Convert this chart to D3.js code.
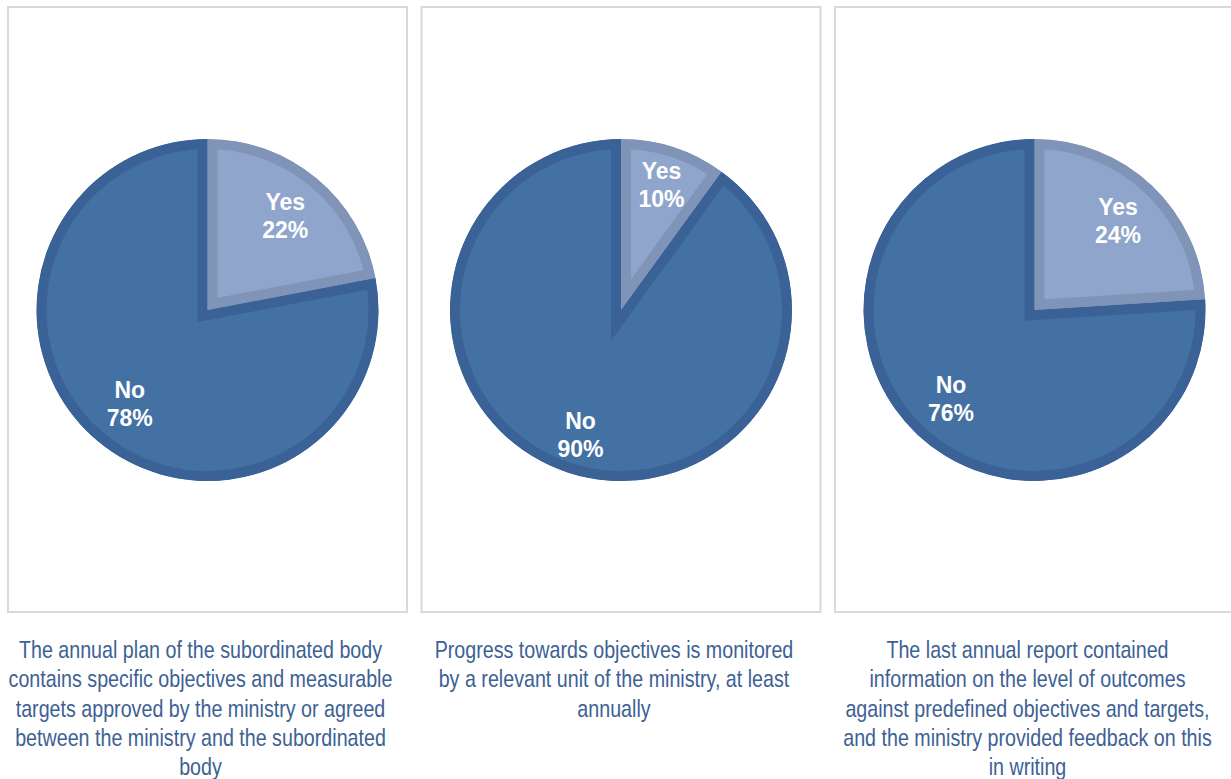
<!DOCTYPE html>
<html>
<head>
<meta charset="utf-8">
<script src="https://cdn.jsdelivr.net/npm/d3@7"></script>
<style>
  html, body { margin: 0; padding: 0; background: #ffffff; }
  svg { display: block; }
</style>
</head>
<body>
<svg id="chart" width="1231" height="779"></svg>
<script>
// Survey answers per question
const answers = ["Yes", "No"];
const plan = [22, 78];
const monitoring = [10, 90];
const reporting = [24, 76];

const captions = [
  ["The annual plan of the subordinated body",
   "contains specific objectives and measurable",
   "targets approved by the ministry or agreed",
   "between the ministry and the subordinated",
   "body"],
  ["Progress towards objectives is monitored",
   "by a relevant unit of the ministry, at least",
   "annually"],
  ["The last annual report contained",
   "information on the level of outcomes",
   "against predefined objectives and targets,",
   "and the ministry provided feedback on this",
   "in writing"]
];

const series = [plan, monitoring, reporting];

// Layout
const panelW = 399, panelH = 605, panelTop = 7, panelLeft = 8, panelStep = 413.5;
const radius = 171, centerY = 310, borderW = 10;
const labelRadius = [122, 131, 122];
const captionSqueeze = 0.82;   // narrow caption face
const fills = { Yes: "#8fa5cb", No: "#4471a3" };
const strokes = { Yes: "#7f94b7", No: "#3a6296" };

const svg = d3.select("#chart");
const defs = svg.append("defs");

const pie = d3.pie().sort(null).value(d => d.value);
const arc = d3.arc().innerRadius(0).outerRadius(radius);

series.forEach((values, i) => {
  const x0 = panelLeft + i * panelStep;
  const g = svg.append("g");

  g.append("rect")
    .attr("x", x0).attr("y", panelTop)
    .attr("width", panelW).attr("height", panelH)
    .attr("fill", "none")
    .attr("stroke", "#d9d9d9")
    .attr("stroke-width", 2);

  const cx = x0 + panelW / 2;
  const slices = pie(answers.map((a, k) => ({ answer: a, value: values[k] })));

  // each wedge keeps its border on the inside by clipping to its own shape
  slices.forEach((s, k) => {
    const id = `clip-${i}-${k}`;
    defs.append("clipPath").attr("id", id)
      .append("path").attr("d", arc(s))
      .attr("transform", `translate(${cx},${centerY})`);
    g.append("g").attr("clip-path", `url(#${id})`)
      .append("path")
      .attr("transform", `translate(${cx},${centerY})`)
      .attr("d", arc(s))
      .attr("fill", fills[s.data.answer])
      .attr("stroke", strokes[s.data.answer])
      .attr("stroke-width", borderW * 2)
      .attr("stroke-linejoin", "miter");
  });

  const labelArc = d3.arc().innerRadius(labelRadius[i]).outerRadius(labelRadius[i]);
  slices.forEach(s => {
    const [lx, ly] = labelArc.centroid(s);
    const t = g.append("text")
      .attr("transform", `translate(${cx + lx},${centerY + ly})`)
      .attr("text-anchor", "middle")
      .attr("fill", "#ffffff")
      .attr("font-family", "Liberation Sans, Arial, sans-serif")
      .attr("font-weight", "bold")
      .attr("font-size", 23);
    t.append("tspan").attr("x", 0).attr("y", -6).text(s.data.answer);
    t.append("tspan").attr("x", 0).attr("y", 22).text(s.data.value + "%");
  });

  const cap = g.append("text")
    .attr("transform", `scale(${captionSqueeze},1)`)
    .attr("text-anchor", "middle")
    .attr("fill", "#3d6194")
    .attr("font-family", "Liberation Sans, Arial, sans-serif")
    .attr("font-size", 24);
  captions[i].forEach((line, j) => {
    cap.append("tspan")
      .attr("x", (cx - 7) / captionSqueeze)
      .attr("y", 658 + j * 29.3)
      .text(line);
  });
});
</script>
</body>
</html>
